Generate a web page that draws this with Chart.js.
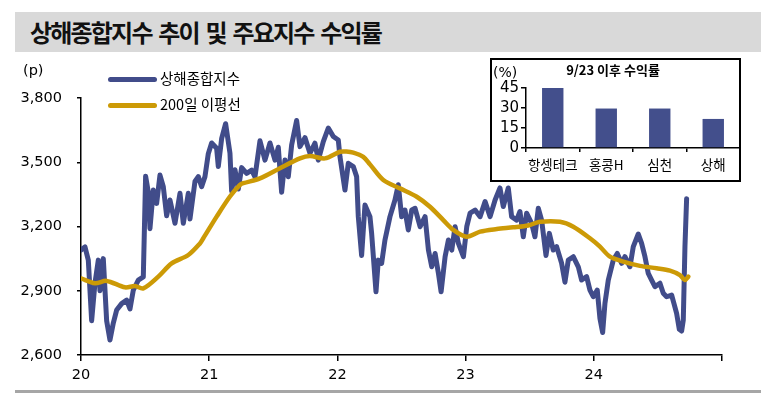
<!DOCTYPE html>
<html>
<head>
<meta charset="utf-8">
<script src="https://cdn.jsdelivr.net/npm/chart.js@4"></script>
<style>
  body { margin: 0; background: #fff; width: 761px; height: 394px; position: relative; overflow: hidden; font-family: 'Noto Sans CJK KR', sans-serif; }
  .abs { position: absolute; }
  #titleBar { left: 15px; top: 12px; width: 746px; height: 40px; background: #d9d9d9; }
  #titleBar span { position: absolute; left: 15px; top: 0; line-height: 40px; font-size: 24px; letter-spacing: -1.8px; word-spacing: 3px; font-weight: bold; color: #111; white-space: nowrap; }
  #unit { left: 23px; top: 62px; font-family: 'DejaVu Sans', sans-serif; font-size: 14.5px; color: #000; }
  .legLine { position: absolute; left: 108px; width: 49px; height: 5.5px; border-radius: 3px; }
  .legText { position: absolute; left: 160px; font-size: 14.5px; line-height: 18px; color: #000; white-space: nowrap; }
  #bottomLine { left: 15px; top: 390px; width: 746px; height: 3px; background: #a6a6a6; }
  #insetBg { left: 490px; top: 58px; width: 251px; height: 124px; background: #fff; }
  #insetBorder { left: 490px; top: 58px; width: 251px; height: 124px; border: 2px solid #000; box-sizing: border-box; pointer-events: none; }
  #insetTitle { left: 490px; top: 61px; width: 246px; text-align: center; font-size: 13px; font-weight: bold; color: #000; line-height: 18px; }
  #insetUnit { left: 493px; top: 64px; font-family: 'DejaVu Sans', sans-serif; font-size: 14px; color: #000; line-height: 17px; }
</style>
</head>
<body>
<div id="titleBar" class="abs"><span>상해종합지수 추이 및 주요지수 수익률</span></div>
<canvas id="mainChart" class="abs" width="761" height="394" style="left:0;top:0;"></canvas>
<div id="unit" class="abs">(p)</div>
<div class="legLine" style="top:76.5px;background:#414c8a;"></div>
<div class="legText" style="top:69px;">상해종합지수</div>
<div class="legLine" style="top:102.5px;background:#cc9a06;"></div>
<div class="legText" style="top:95px;">200일 이평선</div>
<div id="bottomLine" class="abs"></div>
<div id="insetBg" class="abs"></div>
<canvas id="insetChart" class="abs" width="251" height="124" style="left:490px;top:58px;"></canvas>
<div id="insetBorder" class="abs"></div>
<div id="insetTitle" class="abs">9/23 이후 수익률</div>
<div id="insetUnit" class="abs">(%)</div>
<script>
// 상해종합지수 (날짜는 연도 소수)
var shDates = [
  2020.000, 2020.031, 2020.057, 2020.083, 2020.109, 2020.135, 2020.148, 2020.174, 2020.200, 2020.226,
  2020.252, 2020.278, 2020.317, 2020.356, 2020.382, 2020.408, 2020.447, 2020.486,
  2020.504, 2020.525, 2020.538, 2020.564, 2020.590, 2020.616, 2020.642, 2020.668, 2020.694, 2020.733,
  2020.772, 2020.798, 2020.837, 2020.850, 2020.889, 2020.915, 2020.941, 2020.967, 2020.993,
  2021.019, 2021.058, 2021.071, 2021.097, 2021.128, 2021.162, 2021.175, 2021.201,
  2021.227, 2021.253, 2021.292, 2021.331, 2021.357, 2021.396, 2021.435, 2021.474, 2021.513, 2021.539,
  2021.565, 2021.591, 2021.617, 2021.643, 2021.682, 2021.708, 2021.747, 2021.786, 2021.825, 2021.851,
  2021.890, 2021.929, 2021.968, 2022.007, 2022.020, 2022.059, 2022.085, 2022.124, 2022.150, 2022.163,
  2022.189, 2022.215, 2022.254, 2022.267, 2022.301, 2022.319, 2022.345, 2022.371, 2022.410, 2022.449,
  2022.475, 2022.501, 2022.527, 2022.553, 2022.580, 2022.606, 2022.645, 2022.684, 2022.710, 2022.736,
  2022.762, 2022.788, 2022.809, 2022.840, 2022.866, 2022.892, 2022.918, 2022.944, 2022.983, 2023.009,
  2023.035, 2023.074, 2023.113, 2023.152, 2023.191, 2023.230, 2023.268, 2023.294, 2023.333, 2023.359,
  2023.398, 2023.424, 2023.450, 2023.476, 2023.515, 2023.541, 2023.567, 2023.593, 2023.627, 2023.653,
  2023.684, 2023.710, 2023.749, 2023.775, 2023.801, 2023.840, 2023.879, 2023.905, 2023.944, 2023.970,
  2023.996, 2024.027, 2024.048, 2024.069, 2024.087, 2024.113, 2024.152, 2024.183, 2024.217, 2024.243,
  2024.282, 2024.308, 2024.347, 2024.373, 2024.399, 2024.425, 2024.451, 2024.477, 2024.516, 2024.542,
  2024.568, 2024.607, 2024.625, 2024.646, 2024.667, 2024.685, 2024.698, 2024.711, 2024.724
];
var shIndex = [
  3090, 3105, 3043, 2760, 2936, 3043, 2900, 3050, 2760, 2670,
  2749, 2810, 2840, 2856, 2815, 2903, 2950, 2965,
  3435, 3360, 3190, 3370, 3308, 3440, 3386, 3250, 3324, 3215,
  3355, 3215, 3355, 3235, 3410, 3433, 3386, 3433, 3540,
  3590, 3565, 3480, 3610, 3680, 3542, 3365, 3465,
  3375, 3475, 3448, 3463, 3432, 3600, 3510, 3590, 3510, 3570,
  3360, 3510, 3432, 3580, 3695, 3573, 3615, 3542, 3589, 3510,
  3596, 3660, 3620, 3604, 3526, 3370, 3495, 3480, 3433, 3246,
  3065, 3300, 3246, 3168, 2895, 3043, 3028, 3137, 3246, 3324,
  3395, 3246, 3277, 3184, 3277, 3285, 3199, 3246, 3090, 3012,
  3074, 2981, 2895, 3059, 3137, 3090, 3199, 3121, 3059, 3199,
  3262, 3277, 3246, 3316, 3246, 3324, 3380, 3293, 3380, 3246,
  3230, 3270, 3152, 3262, 3215, 3152, 3285, 3230, 3065, 3168,
  3090, 3106, 3028, 2940, 3043, 3059, 3012, 2950, 2966, 2903,
  2872, 2903, 2770, 2705, 2841, 2950, 3043, 3074, 3028, 3059,
  3012, 3106, 3165, 3121, 3059, 2981, 2950, 2919, 2935, 2888,
  2872, 2880, 2841, 2794, 2720, 2712, 2763, 3106, 3330
];

// 200일 이평선
var maDates = [
  2020.000, 2020.109, 2020.200, 2020.343, 2020.421, 2020.486, 2020.603, 2020.707, 2020.837, 2020.928,
  2020.954, 2021.058, 2021.162, 2021.240, 2021.266, 2021.396, 2021.552, 2021.708, 2021.786, 2021.903,
  2022.020, 2022.070, 2022.124, 2022.202, 2022.254, 2022.358, 2022.488, 2022.619, 2022.722, 2022.826,
  2022.904, 2023.009, 2023.113, 2023.243, 2023.372, 2023.489, 2023.580, 2023.736, 2023.840, 2023.970,
  2024.048, 2024.126, 2024.230, 2024.360, 2024.490, 2024.594, 2024.672, 2024.711, 2024.737
];
var maValues = [
  2958, 2935, 2946, 2916, 2922, 2911, 2966, 3028, 3067, 3121,
  3145, 3246, 3340, 3394, 3402, 3425, 3472, 3518, 3529, 3518,
  3549, 3550, 3545, 3525, 3490, 3417, 3378, 3339, 3292, 3230,
  3184, 3152, 3176, 3188, 3196, 3205, 3222, 3222, 3199, 3145,
  3106, 3059, 3036, 3016, 3005, 2994, 2973, 2950, 2966
];

var yearTicks = [2020, 2021, 2022, 2023, 2024, 2025];

// 9/23 이후 수익률
var retLabels = ['항셍테크', '홍콩H', '심천', '상해'];
var retValues = [45.2, 29.6, 29.6, 21.8];
var retTicks = [0, 15, 30, 45];

var numFont = { family: "'DejaVu Sans', sans-serif", size: 14.5 };
var krFont = { family: "'Noto Sans CJK KR', sans-serif", size: 13.5 };

function toPoints(xs, ys) {
  var pts = [];
  for (var i = 0; i < xs.length; i++) pts.push({ x: xs[i], y: ys[i] });
  return pts;
}

new Chart(document.getElementById('mainChart'), {
  type: 'line',
  data: {
    datasets: [{
      label: '상해종합지수',
      data: toPoints(shDates, shIndex),
      borderColor: '#414c8a',
      borderWidth: 5,
      pointRadius: 0,
      borderJoinStyle: 'round',
      borderCapStyle: 'round',
      tension: 0,
      order: 2
    }, {
      label: '200일 이평선',
      data: toPoints(maDates, maValues),
      borderColor: '#cc9a06',
      borderWidth: 4.5,
      pointRadius: 0,
      borderJoinStyle: 'round',
      borderCapStyle: 'round',
      tension: 0.3,
      order: 1
    }]
  },
  options: {
    responsive: false,
    animation: false,
    events: [],
    layout: { padding: { top: 98, right: 39, bottom: 0, left: 0 } },
    plugins: { legend: { display: false }, tooltip: { enabled: false } },
    scales: {
      x: {
        type: 'linear',
        min: yearTicks[0],
        max: yearTicks[yearTicks.length - 1],
        afterBuildTicks: function(s) { s.ticks = yearTicks.map(function(v){ return { value: v }; }); },
        afterFit: function(s) { s.height = 39; },
        ticks: {
          color: '#000', font: numFont, padding: 6, maxRotation: 0, autoSkip: false,
          callback: function(v) { return v < 2025 ? String(v - 2000) : ''; }
        },
        grid: { drawOnChartArea: false, drawTicks: true, tickLength: 6, color: '#000', lineWidth: 1.5 },
        border: { color: '#000', width: 1.5 }
      },
      y: {
        min: 2600,
        max: 3800,
        afterFit: function(s) { s.width = 81; },
        ticks: {
          stepSize: 300, color: '#000', font: numFont, padding: 15, autoSkip: false,
          callback: function(v) { return v.toLocaleString('en-US'); }
        },
        grid: { drawOnChartArea: false, drawTicks: true, tickLength: 4, color: '#000', lineWidth: 1.5 },
        border: { color: '#000', width: 1.5 }
      }
    }
  }
});

new Chart(document.getElementById('insetChart'), {
  type: 'bar',
  data: {
    labels: retLabels,
    datasets: [{ data: retValues, backgroundColor: '#434f8c', barPercentage: 0.4, categoryPercentage: 1 }]
  },
  options: {
    responsive: false,
    animation: false,
    events: [],
    layout: { padding: { top: 30, right: 1, bottom: 0, left: 0 } },
    plugins: { legend: { display: false }, tooltip: { enabled: false } },
    scales: {
      x: {
        afterFit: function(s) { s.height = 34; },
        ticks: { color: '#000', font: krFont, padding: 5, maxRotation: 0, autoSkip: false },
        grid: { drawOnChartArea: false, drawTicks: true, tickLength: 4, color: '#000', lineWidth: 1.5 },
        border: { color: '#000', width: 1.5 }
      },
      y: {
        min: retTicks[0],
        max: retTicks[retTicks.length - 1],
        afterBuildTicks: function(s) { s.ticks = retTicks.map(function(v){ return { value: v }; }); },
        afterFit: function(s) { s.width = 36; },
        ticks: { color: '#000', font: { family: "'DejaVu Sans', sans-serif", size: 15 }, padding: 2, autoSkip: false },
        grid: { drawOnChartArea: false, drawTicks: true, tickLength: 5, color: '#000', lineWidth: 1.5 },
        border: { color: '#000', width: 1.5 }
      }
    }
  }
});
</script>
</body>
</html>
